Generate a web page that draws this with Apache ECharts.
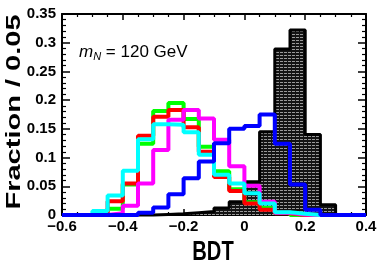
<!DOCTYPE html>
<html><head><meta charset="utf-8">
<script src="https://cdn.jsdelivr.net/npm/echarts@6/dist/echarts.min.js"></script>
<style>html,body{margin:0;padding:0;background:#fff}#c{width:382px;height:273px}</style>
</head><body><div id="c"></div>
<script>
// bin edges (width 0.05)
const binEdges = [-0.6,-0.55,-0.5,-0.45,-0.4,-0.35,-0.3,-0.25,-0.2,-0.15,-0.1,-0.05,0,0.05,0.1,0.15,0.2,0.25,0.3,0.35,0.4];
const xTickLabels = ['\u22120.6','\u22120.4','\u22120.2','0','0.2','0.4'];
const yTickLabels = ['0','0.05','0.1','0.15','0.2','0.25','0.3','0.35'];
// bin contents (20 bins)
const sigBlack   = [0,0,0,0,0,0,0.001,0.002,0.004,0.006,0.012,0.023,0.058,0.145,0.289,0.322,0.140,0.018,0,0];
const bkgGreen   = [0,0,0.002,0.011,0.053,0.124,0.181,0.195,0.167,0.119,0.076,0.045,0.022,0.012,0.004,0,0,0,0,0];
const bkgRed     = [0,0,0.003,0.024,0.055,0.138,0.171,0.183,0.153,0.110,0.066,0.042,0.020,0.009,0.003,0,0,0,0,0];
const bkgMagenta = [0,0,0,0.003,0.016,0.055,0.113,0.166,0.183,0.168,0.131,0.085,0.051,0.023,0.004,0.001,0,0,0,0];
const bkgCyan    = [0,0,0.007,0.034,0.077,0.132,0.158,0.157,0.144,0.105,0.070,0.055,0.038,0.020,0.005,0.002,0,0,0,0];
const bkgBlue    = [0,0,0,0,0,0.004,0.013,0.036,0.064,0.093,0.125,0.150,0.155,0.175,0.124,0.053,0.009,0,0,0];

function steps(vals){ return binEdges.map((x,i)=>[x, vals[Math.min(i, vals.length-1)]]); }

const pc = document.createElement('canvas'); pc.width=4; pc.height=3;
const g = pc.getContext('2d');
g.fillStyle='#141414'; g.fillRect(0,0,4,3);
g.fillStyle='#9a9a9a'; g.fillRect(0,1,3,1);

const FONT = '"Liberation Sans", Arial, Helvetica, sans-serif';
function xAxisDef(pos, showLabel){
  return {type:'value', position:pos, min:-0.6, max:0.4, interval:0.2,
    axisLine:{show:true, onZero:false, lineStyle:{color:'#000', width:2}},
    axisTick:{show:true, inside:true, length:6, lineStyle:{color:'#000', width:1.5}},
    minorTick:{show:true, splitNumber:4, length:3, lineStyle:{color:'#000', width:1.2}},
    splitLine:{show:false}, minorSplitLine:{show:false},
    axisLabel:{show:showLabel, margin:4, color:'#000', fontFamily:FONT, fontWeight:'bold', fontSize:15,
      formatter:v=>xTickLabels[Math.round((v+0.6)/0.2)]}};
}
function yAxisDef(pos, showLabel){
  return {type:'value', position:pos, min:0, max:0.35, interval:0.05,
    axisLine:{show:true, onZero:false, lineStyle:{color:'#000', width:2}},
    axisTick:{show:true, inside:true, length:8, lineStyle:{color:'#000', width:1.5}},
    minorTick:{show:true, splitNumber:5, length:4, lineStyle:{color:'#000', width:1.2}},
    splitLine:{show:false}, minorSplitLine:{show:false},
    axisLabel:{show:showLabel, margin:6, color:'#000', fontFamily:FONT, fontWeight:'bold', fontSize:15,
      formatter:v=>yTickLabels[Math.round(v/0.05)]}};
}
function lineSeries(name, vals, color, z){
  return {name, type:'line', step:'end', data:steps(vals), showSymbol:false, symbol:'none', clip:false,
    lineStyle:{color, width:4}, z, silent:true};
}
const chart = echarts.init(document.getElementById('c'), null, {renderer:'canvas'});
chart.setOption({
  animation:false,
  backgroundColor:'#fff',
  grid:{left:62, right:16, top:14, bottom:58},
  xAxis:[xAxisDef('bottom', true), xAxisDef('top', false)],
  yAxis:[yAxisDef('left', true), yAxisDef('right', false)],
  series:[
    {name:'signal', type:'line', step:'end', data:steps(sigBlack), showSymbol:false, symbol:'none', clip:false,
      lineStyle:{color:'#000', width:3}, areaStyle:{color:{image:pc, repeat:'repeat'}, opacity:1}, z:1, silent:true},
    lineSeries('green', bkgGreen, '#00ff00', 2),
    lineSeries('red', bkgRed, '#ff0000', 3),
    lineSeries('magenta', bkgMagenta, '#ff00ff', 4),
    lineSeries('cyan', bkgCyan, '#00ffff', 5),
    lineSeries('blue', bkgBlue, '#0000ff', 6)
  ],
  graphic:[
    {type:'text', x:14, y:112, rotation:Math.PI/2, scaleX:1.45, z:10,
      style:{text:'Fraction / 0.05', font:'bold 20px '+FONT, fill:'#000', align:'center', verticalAlign:'middle'}},
    {type:'text', x:213, y:252, scaleX:0.72, z:10,
      style:{text:'BDT', font:'bold 28px '+FONT, fill:'#000', align:'center', verticalAlign:'middle'}},
    {type:'text', x:79, y:52, z:10,
      style:{text:'{i|m}{s|N}{r| = 120 GeV}', align:'left', verticalAlign:'middle', fill:'#000',
        rich:{
          i:{fontFamily:FONT, fontSize:17, fontStyle:'italic', fill:'#000'},
          s:{fontFamily:FONT, fontSize:11, fontStyle:'italic', fill:'#000', padding:[10,0,0,0]},
          r:{fontFamily:FONT, fontSize:17, fill:'#000'}
        }}}
  ]
});
</script></body></html>
